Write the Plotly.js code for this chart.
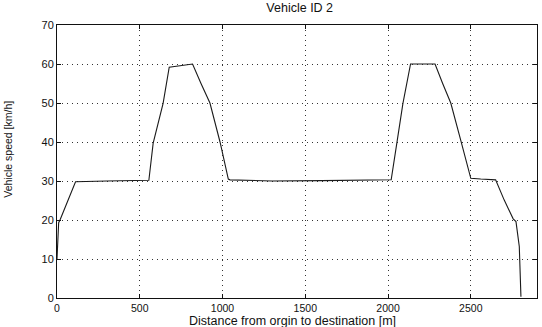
<!DOCTYPE html>
<html>
<head>
<meta charset="utf-8">
<script src="https://cdn.plot.ly/plotly-3.0.1.min.js"></script>
<style>html,body{margin:0;padding:0;background:#fff;}#chart{width:542px;height:327px;}</style>
</head>
<body>
<div id="chart"></div>
<script>
const distance = [0, 4, 10, 20, 112, 300, 555, 581, 641, 678, 760, 819, 870, 924, 985, 1035, 1045, 1300, 1600, 2019, 2056, 2090, 2136, 2200, 2284, 2330, 2379, 2439, 2500, 2560, 2650, 2702, 2756, 2773, 2793, 2803];
const speed    = [10, 15, 19.3, 20.2, 29.8, 30, 30.2, 39.7, 49.9, 59.2, 59.6, 60, 55, 50, 40, 30.5, 30.3, 30, 30.1, 30.3, 40.5, 49.9, 60, 60, 60, 55, 50, 40.5, 30.7, 30.5, 30.3, 25.1, 20.3, 19.6, 13.2, 0.3];
const xTicks = [0, 500, 1000, 1500, 2000, 2500];
const yTicks = [0, 10, 20, 30, 40, 50, 60, 70];
const titleText = 'Vehicle ID 2';
const xTitle = 'Distance from orgin to destination [m]';
const yTitle = 'Vehicle speed [km/h]';

const fam = 'Liberation Sans, Arial, sans-serif';
const font = {family: fam, size: 11, color: '#111'};

Plotly.newPlot('chart', [{
  x: distance, y: speed, type: 'scatter', mode: 'lines',
  line: {color: '#1a1a1a', width: 1.1}, hoverinfo: 'skip'
}], {
  width: 542, height: 327,
  margin: {l: 57, r: 5, t: 25, b: 29, pad: 0},
  paper_bgcolor: '#fff', plot_bgcolor: '#fff',
  showlegend: false,
  font: font,
  title: {text: titleText, font: {family: fam, size: 12.5, color: '#111'}, x: 0.553, xanchor: 'center', y: 0.99, yanchor: 'top'},
  xaxis: {
    range: [0, 2900], tickvals: xTicks, ticktext: xTicks.map(String),
    showgrid: true, gridcolor: '#333', griddash: '1px,4px', gridwidth: 1,
    zeroline: false, showline: true, linecolor: '#111', linewidth: 1, mirror: 'ticks',
    ticks: 'inside', ticklen: 4, tickcolor: '#111',
    tickfont: {family: fam, size: 10.5, color: '#111'}
  },
  yaxis: {
    range: [0, 70], tickvals: yTicks, ticktext: yTicks.map(String),
    showgrid: true, gridcolor: '#333', griddash: '1px,4px', gridwidth: 1,
    zeroline: false, showline: true, linecolor: '#111', linewidth: 1, mirror: 'ticks',
    ticks: 'inside', ticklen: 4, tickcolor: '#111',
    tickfont: font
  },
  annotations: [
    {text: xTitle, xref: 'paper', yref: 'paper', x: 0.49, y: -0.112, xanchor: 'center', yanchor: 'bottom', showarrow: false,
     borderpad: 0, font: {family: fam, size: 12.5, color: '#111'}},
    {text: yTitle, xref: 'paper', yref: 'paper', x: -0.101, y: 0.545, xanchor: 'center', yanchor: 'middle', textangle: -90, showarrow: false,
     font: {family: 'Liberation Sans Narrow, Liberation Sans, Arial, sans-serif', size: 10.5, color: '#111'}}
  ]
}, {displayModeBar: false, staticPlot: true});
</script>
</body>
</html>
